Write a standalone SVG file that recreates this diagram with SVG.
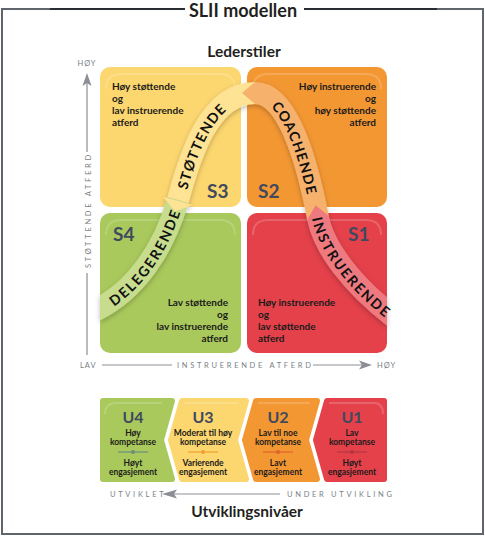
<svg xmlns="http://www.w3.org/2000/svg" width="485" height="538" viewBox="0 0 485 538">
<defs>
<style>
text{font-family:Lato,"Liberation Sans",sans-serif;}
.title{font-weight:700;fill:#231f20;}
.qt{font-weight:700;font-size:10px;fill:#1b1b1b;}
.sl{font-weight:700;font-size:19px;fill:#3f4a5f;}
.ax{font-size:7.5px;fill:#7b7f85;letter-spacing:2.7px;}
.axl{fill:none;stroke:#8b8f95;stroke-width:1.2;}
.axh{fill:#8b8f95;}
.band{fill:none;stroke-width:22;stroke-linecap:butt;}
.bt{font-weight:700;font-size:14px;fill:#111;letter-spacing:1.5px;dominant-baseline:central;}
.ul{font-weight:700;font-size:16px;fill:#3f4a5f;text-anchor:middle;}
.us{font-weight:700;font-size:8.5px;fill:#1b1b1b;text-anchor:middle;}
.hl{fill:none;stroke:#fff;stroke-opacity:.18;stroke-width:2;}
.box{stroke-width:6;stroke-linejoin:round;}
</style>
<clipPath id="qc"><rect x="100" y="60" width="287" height="300"/></clipPath>
<filter id="sh" x="-20%" y="-20%" width="140%" height="140%"><feDropShadow dx="0" dy="2" stdDeviation="2.5" flood-color="#000" flood-opacity=".25"/></filter>
<path id="pg" d="M 92 312 C 136 292 164 248 178 200"/>
<path id="py" d="M 178 200 C 187 169 205 93 255 93"/>
<path id="po" d="M 255 93 C 285 93 305 150 318 218"/>
<path id="pr" d="M 318 218 C 324 248 352 285 395 318"/>
</defs>
<rect width="485" height="538" fill="#fff"/>

<!-- frame -->
<g id="frame">
<path d="M 185 9 H 2 V 534 H 483 V 9 H 304" fill="none" stroke="#5f656b" stroke-width="2"/>
<path d="M 50 9 H 185 M 304 9 H 437" fill="none" stroke="#2a2e33" stroke-width="2"/>
<text class="title" x="243" y="16.5" font-size="18" text-anchor="middle">SLII modellen</text>
</g>

<text class="title" x="244" y="57" font-size="15.5" text-anchor="middle" fill="#333">Lederstiler</text>

<!-- quadrants -->
<g id="s3">
<rect x="100" y="67" width="141" height="140" rx="10" fill="#fcd66f"/>
<path class="hl" d="M 106 89 Q 106 74 121 74 H 220 Q 235 74 235 89"/>
<text class="qt" x="112"><tspan x="112" y="90">Høy støttende</tspan><tspan x="112" y="102">og</tspan><tspan x="112" y="114">lav instruerende</tspan><tspan x="112" y="126">atferd</tspan></text>
<text class="sl" x="207" y="198">S3</text>
</g>
<g id="s2">
<rect x="247" y="67" width="140" height="140" rx="10" fill="#f39733"/>
<path class="hl" d="M 253 89 Q 253 74 268 74 H 366 Q 381 74 381 89"/>
<text class="qt" text-anchor="end"><tspan x="376" y="90">Høy instruerende</tspan><tspan x="376" y="102">og</tspan><tspan x="376" y="114">høy støttende</tspan><tspan x="376" y="126">atferd</tspan></text>
<text class="sl" x="258" y="198">S2</text>
</g>
<g id="s4">
<rect x="100" y="213" width="141" height="140" rx="10" fill="#a9c95c"/>
<path class="hl" d="M 106 235 Q 106 220 121 220 H 220 Q 235 220 235 235"/>
<text class="qt" text-anchor="end"><tspan x="228" y="306">Lav støttende</tspan><tspan x="228" y="318">og</tspan><tspan x="228" y="330">lav instruerende</tspan><tspan x="228" y="342">atferd</tspan></text>
<text class="sl" x="113" y="241">S4</text>
</g>
<g id="s1">
<rect x="247" y="213" width="140" height="140" rx="10" fill="#e4414a"/>
<path class="hl" d="M 253 235 Q 253 220 268 220 H 366 Q 381 220 381 235"/>
<text class="qt"><tspan x="258" y="306">Høy instruerende</tspan><tspan x="258" y="318">og</tspan><tspan x="258" y="330">lav støttende</tspan><tspan x="258" y="342">atferd</tspan></text>
<text class="sl" x="348" y="241">S1</text>
</g>

<!-- curve bands -->
<g id="connectors" filter="url(#sh)">
<g clip-path="url(#qc)">
<use href="#pg" class="band" stroke="#c7dc8c"/>
<use href="#py" class="band" stroke="#fde393"/>
<use href="#po" class="band" stroke="#f6b26c"/>
<use href="#pr" class="band" stroke="#ee7a80"/>
<polygon points="163.4,196.9 192.6,205.1 174.9,211.5" fill="#fde393"/>
<polygon points="255,82 255,104 242,93" fill="#f6b26c"/>
<polygon points="307.2,220.1 328.8,215.9 315.6,205.2" fill="#ee7a80"/>
</g>
</g>
<g id="band-labels">
<text class="bt"><textPath href="#pg" startOffset="54%" text-anchor="middle">DELEGERENDE</textPath></text>
<text class="bt"><textPath href="#py" startOffset="42%" text-anchor="middle">STØTTENDE</textPath></text>
<text class="bt"><textPath href="#po" startOffset="50%" text-anchor="middle">COACHENDE</textPath></text>
<text class="bt"><textPath href="#pr" startOffset="47%" text-anchor="middle">INSTRUERENDE</textPath></text>
</g>

<!-- axes -->
<g id="axis-y">
<text class="ax" x="87" y="66" text-anchor="middle" style="letter-spacing:1px">HØY</text>
<polygon class="axh" points="87,73 82.5,86 87,83 91.5,86"/>
<path class="axl" d="M 87 83 V 152 M 87 273 V 355"/>
<text class="ax" transform="translate(91,268) rotate(-90)">STØTTENDE ATFERD</text>
</g>
<g id="axis-x">
<text class="ax" x="80" y="368" style="letter-spacing:1px">LAV</text>
<path class="axl" d="M 102 365 H 172 M 313 365 H 362"/>
<polygon class="axh" points="372,365 359,360.5 362,365 359,369.5"/>
<text class="ax" x="177" y="368">INSTRUERENDE ATFERD</text>
<text class="ax" x="377" y="368" style="letter-spacing:1px">HØY</text>
</g>

<!-- development levels -->
<g id="u4">
<path class="box" d="M 103 401 H 172 L 161 440 L 172 479 H 103 Z" fill="#a9c95c" stroke="#a9c95c"/>
<path class="hl" d="M 105 414 Q 105 403 116 403 H 162"/>
<text class="ul" x="133" y="423">U4</text>
<text class="us" x="133" y="436">Høy</text>
<text class="us" x="133" y="445">kompetanse</text>
<path d="M 118 452 H 148" stroke="#6c8f7d" stroke-width="1.2"/><circle cx="133" cy="452" r="2" fill="#6c8f7d"/>
<text class="us" x="133" y="466">Høyt</text>
<text class="us" x="133" y="475">engasjement</text>
</g>
<g id="u3">
<path class="box" d="M 182 401 H 246 L 235 440 L 246 479 H 182 L 171 440 Z" fill="#fcd66f" stroke="#fcd66f"/>
<path class="hl" d="M 184 403 H 238"/>
<text class="ul" x="203" y="423">U3</text>
<text class="us" x="203" y="436">Moderat til høy</text>
<text class="us" x="203" y="445">kompetanse</text>
<path d="M 188 452 H 218" stroke="#f0a030" stroke-width="1.2"/><circle cx="203" cy="452" r="2" fill="#f0a030"/>
<text class="us" x="203" y="466">Varierende</text>
<text class="us" x="203" y="475">engasjement</text>
</g>
<g id="u2">
<path class="box" d="M 256 401 H 317 L 306 440 L 317 479 H 256 L 245 440 Z" fill="#f39733" stroke="#f39733"/>
<path class="hl" d="M 258 403 H 310"/>
<text class="ul" x="278" y="423">U2</text>
<text class="us" x="278" y="436">Lav til noe</text>
<text class="us" x="278" y="445">kompetanse</text>
<path d="M 263 452 H 293" stroke="#e0642e" stroke-width="1.2"/><circle cx="278" cy="452" r="2" fill="#e0642e"/>
<text class="us" x="278" y="466">Lavt</text>
<text class="us" x="278" y="475">engasjement</text>
</g>
<g id="u1">
<path class="box" d="M 327 401 H 384 V 479 H 327 L 316 440 Z" fill="#e4414a" stroke="#e4414a"/>
<path class="hl" d="M 329 403 H 374 Q 383 403 383 414"/>
<text class="ul" x="352" y="423">U1</text>
<text class="us" x="352" y="436">Lav</text>
<text class="us" x="352" y="445">kompetanse</text>
<path d="M 337 452 H 367" stroke="#b23543" stroke-width="1.2"/><circle cx="352" cy="452" r="2" fill="#b23543"/>
<text class="us" x="352" y="466">Høyt</text>
<text class="us" x="352" y="475">engasjement</text>
</g>

<g id="axis-u">
<text class="ax" x="110" y="497">UTVIKLET</text>
<polygon class="axh" points="162,494 177,489.5 174,494 177,498.5"/>
<path class="axl" d="M 174 494 H 280"/>
<text class="ax" x="287" y="497">UNDER UTVIKLING</text>
</g>
<text class="title" x="247" y="517" font-size="15.5" text-anchor="middle" fill="#333">Utviklingsnivåer</text>
</svg>
